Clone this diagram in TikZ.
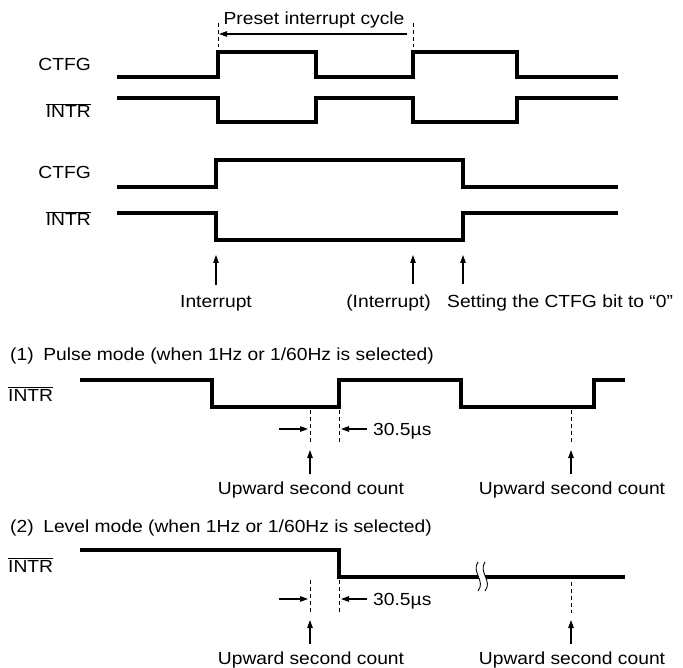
\documentclass[tikz,border=0pt]{standalone}
\usepackage{fontspec}
\setmainfont{Liberation Sans}[FakeStretch=1.1]
\usetikzlibrary{arrows.meta}

\begin{document}
\begin{tikzpicture}[x=1pt, y=-1pt,
    every node/.style={inner sep=0pt, font=\fontsize{17.5}{21}\selectfont},
    wave/.style={line width=3.2pt, line join=miter},
    guide/.style={line width=0.9pt, dash pattern=on 4pt off 3pt},
    pointer/.style={line width=1.1pt, -{Triangle[length=8pt, width=5.5pt]}}]

    \useasboundingbox (0,0) rectangle (683,668);

    % preset interrupt cycle
    \node[anchor=base] (cycle) at (314,25) {Preset interrupt cycle};
    \draw[guide] (218,23) -- (218,47);
    \draw[guide] (413,23) -- (413,47);
    \coordinate (cycR) at (407,34);
    \coordinate (cycL) at (219,34);
    \draw[pointer] (cycR) -- (cycL);

    % periodic output
    \node[anchor=base east] (ctfgA) at (91,71) {CTFG};
    \node[anchor=base east] (intrA) at (91,118) {$\overline{\mbox{INTR}}$};
    \draw[wave] (117,77) -- (218,77) -- (218,52) -- (316,52) -- (316,77) -- (413,77)
        -- (413,52) -- (517,52) -- (517,77) -- (618,77);
    \draw[wave] (117,98) -- (218,98) -- (218,122) -- (316,122) -- (316,98) -- (413,98)
        -- (413,122) -- (517,122) -- (517,98) -- (618,98);

    % held until the CTFG bit is cleared
    \node[anchor=base east] (ctfgB) at (91,179) {CTFG};
    \node[anchor=base east] (intrB) at (91,226) {$\overline{\mbox{INTR}}$};
    \draw[wave] (117,187) -- (216,187) -- (216,160) -- (463,160) -- (463,187) -- (618,187);
    \draw[wave] (117,213) -- (216,213) -- (216,240) -- (463,240) -- (463,213) -- (618,213);

    \node[anchor=base] (irqB) at (216,308) {Interrupt};
    \node[anchor=base east] (irqB2) at (431,308) {(Interrupt)};
    \node[anchor=base west] (clrB) at (447,308) {Setting the CTFG bit to “0”};
    \coordinate (tipB1) at (216,255);
    \coordinate (tipB2) at (413,255);
    \coordinate (tipB3) at (463,255);
    \draw[pointer, shorten <=11pt] (irqB.north -| tipB1) -- (tipB1);
    \draw[pointer, shorten <=11pt] (irqB2.north -| tipB2) -- (tipB2);
    \draw[pointer, shorten <=11pt] (clrB.north -| tipB3) -- (tipB3);

    % (1) pulse mode
    \node[anchor=base west] (pulse) at (10,361) {(1)\hspace{0.55em}Pulse mode (when 1Hz or 1/60Hz is selected)};
    \node[anchor=base west] (intrC) at (8,401) {$\overline{\mbox{INTR}}$};
    \draw[wave] (80,380) -- (212,380) -- (212,407) -- (339,407) -- (339,380) -- (461,380)
        -- (461,407) -- (594,407) -- (594,380) -- (625,380);
    \draw[guide] (310,410) -- (310,442);
    \draw[guide] (339,410) -- (339,442);
    \draw[guide] (571,410) -- (571,442);
    \coordinate (inC) at (279,429);
    \draw[pointer] (inC) -- (308,429);
    \node[anchor=base west] (widthC) at (373,435) {30.5µs};
    \draw[pointer, shorten <=6pt] (widthC.west |- inC) -- (341,429);

    \node[anchor=base] (upC1) at (311,494) {Upward second count};
    \node[anchor=base] (upC2) at (572,494) {Upward second count};
    \coordinate (tipC1) at (310,450);
    \coordinate (tipC2) at (571,450);
    \draw[pointer, shorten <=7pt] (upC1.north -| tipC1) -- (tipC1);
    \draw[pointer, shorten <=7pt] (upC2.north -| tipC2) -- (tipC2);

    % (2) level mode
    \node[anchor=base west] (level) at (10,532) {(2)\hspace{0.55em}Level mode (when 1Hz or 1/60Hz is selected)};
    \node[anchor=base west] (intrD) at (8,572) {$\overline{\mbox{INTR}}$};
    \draw[wave] (80,550) -- (339,550) -- (339,577) -- (625,577);
    % break mark
    \fill[white] (478,562) .. controls (471,572) and (486,581) .. (478,591)
        -- (485,591) .. controls (493,581) and (478,572) .. (485,562) -- cycle;
    \draw[line width=0.9pt] (478,562) .. controls (471,572) and (486,581) .. (478,591);
    \draw[line width=0.9pt] (485,562) .. controls (478,572) and (493,581) .. (485,591);

    \draw[guide] (310,580) -- (310,612);
    \draw[guide] (339,580) -- (339,612);
    \draw[guide] (571,582) -- (571,613);
    \coordinate (inD) at (279,599);
    \draw[pointer] (inD) -- (308,599);
    \node[anchor=base west] (widthD) at (373,605) {30.5µs};
    \draw[pointer, shorten <=6pt] (widthD.west |- inD) -- (341,599);

    \node[anchor=base] (upD1) at (311,664) {Upward second count};
    \node[anchor=base] (upD2) at (572,664) {Upward second count};
    \coordinate (tipD1) at (310,620);
    \coordinate (tipD2) at (571,620);
    \draw[pointer, shorten <=7pt] (upD1.north -| tipD1) -- (tipD1);
    \draw[pointer, shorten <=7pt] (upD2.north -| tipD2) -- (tipD2);
\end{tikzpicture}
\end{document}
